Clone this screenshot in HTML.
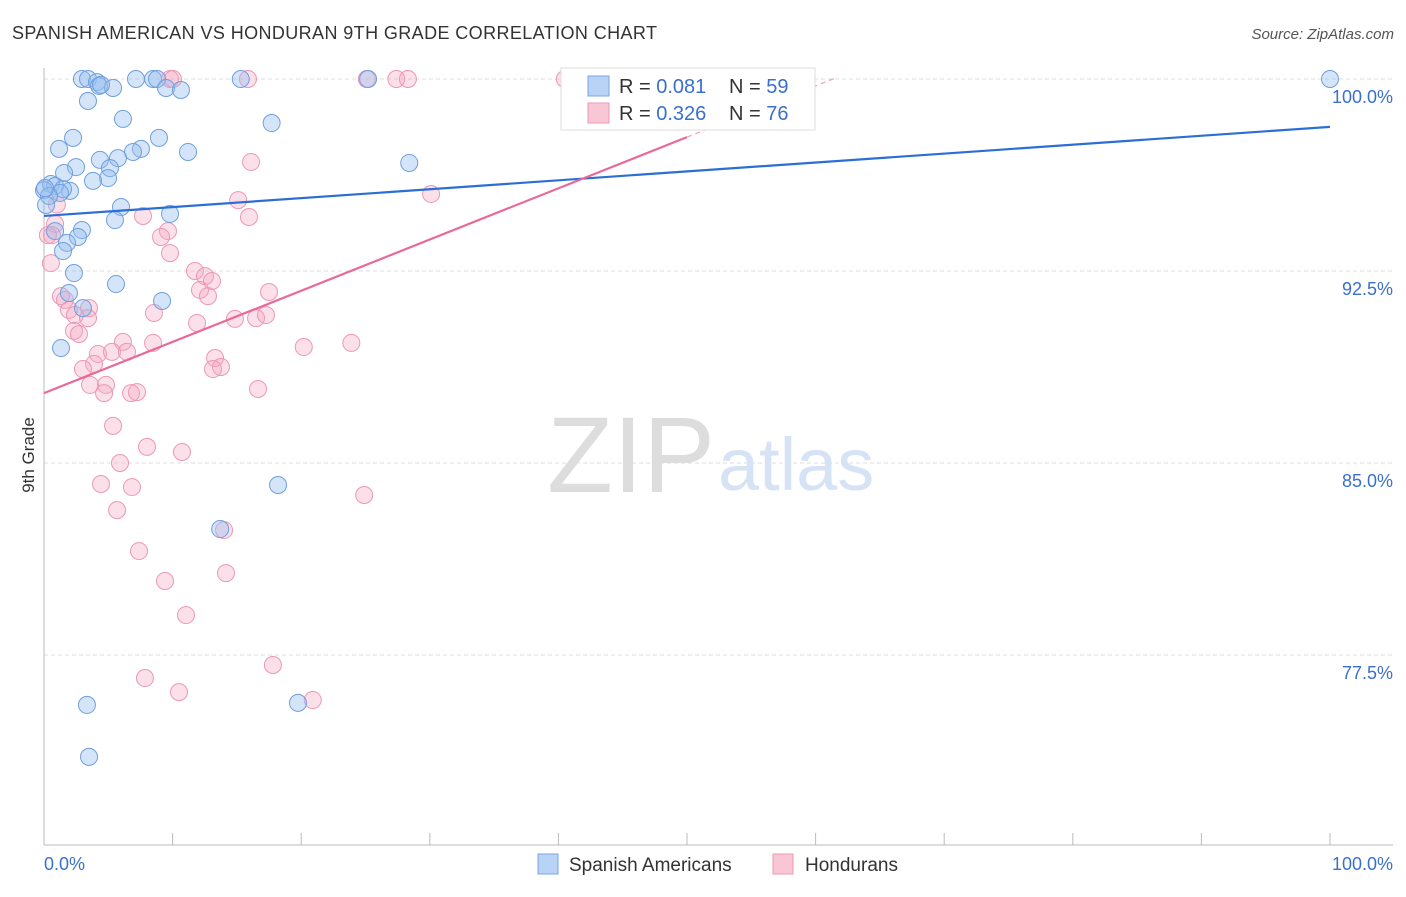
<!DOCTYPE html>
<html><head><meta charset="utf-8"><style>
body{margin:0;background:#fff;font-family:"Liberation Sans",sans-serif;}
svg text{font-family:"Liberation Sans",sans-serif;}
</style></head><body>
<svg id="chart" width="1406" height="892" xmlns="http://www.w3.org/2000/svg">
<text x="12" y="39" font-size="18" fill="#333" textLength="645">SPANISH AMERICAN VS HONDURAN 9TH GRADE CORRELATION CHART</text>
<text x="1394" y="39" font-size="15" fill="#555" text-anchor="end" font-style="italic">Source: ZipAtlas.com</text>
<text x="34" y="455" font-size="17" fill="#333" text-anchor="middle" transform="rotate(-90 34 455)">9th Grade</text>
<g id="grid"></g>
<g id="axes"></g>
<text x="715" y="492" font-size="108" fill="#ddd" text-anchor="end" font-family="Liberation Serif">ZIP</text>
<text x="718" y="490" font-size="74" fill="#d5e3f5">atlas</text>
<g id="pts"></g>
<g id="trend"></g>
<g>
<rect x="561" y="68" width="254" height="62" fill="#fff" stroke="#ddd"/>
<rect x="588" y="76" width="21" height="20" fill="#b8d3f6" stroke="#7aa6e0"/>
<rect x="588" y="103" width="21" height="20" fill="#f9c6d5" stroke="#ec9ab5"/>
<text x="619" y="93" font-size="20" fill="#333">R = <tspan fill="#3a70cc">0.081</tspan></text>
<text x="729" y="93" font-size="20" fill="#333">N = <tspan fill="#3a70cc">59</tspan></text>
<text x="619" y="120" font-size="20" fill="#333">R = <tspan fill="#3a70cc">0.326</tspan></text>
<text x="729" y="120" font-size="20" fill="#333">N = <tspan fill="#3a70cc">76</tspan></text>
</g>
<g>
<rect x="538" y="854" width="20" height="20" fill="#b8d3f6" stroke="#7aa6e0"/>
<text x="569" y="871" font-size="19" fill="#333">Spanish Americans</text>
<rect x="773" y="854" width="20" height="20" fill="#f9c6d5" stroke="#ec9ab5"/>
<text x="805" y="871" font-size="19" fill="#333">Hondurans</text>
</g>
</svg>
<script>
const yTicks=[100,92.5,85,77.5];
const yTickLabels=["100.0%","92.5%","85.0%","77.5%"];
const xTickLabels=["0.0%","100.0%"];
const blueX=[2.95,3.42,4.12,4.28,5.37,3.42,7.15,8.48,8.79,9.49,10.65,15.3,25.2,100,6.14,17.7,2.26,8.94,1.17,7.54,6.92,11.2,4.35,5.75,28.4,2.49,5.13,1.56,4.98,3.81,0.54,0.86,0,2.02,1.48,1.24,0.39,5.99,9.8,5.52,0.86,2.95,2.64,1.79,1.48,2.33,5.6,1.94,3.03,9.18,1.32,18.2,13.7,3.34,19.75,3.5,0.08,0.16,4.43];
const blueY=[100,100,99.88,99.73,99.65,99.14,100,100,100,99.65,99.57,100,100,100,98.44,98.28,97.7,97.7,97.27,97.27,97.15,97.15,96.84,96.91,96.72,96.56,96.52,96.33,96.13,96.02,95.9,95.82,95.66,95.63,95.7,95.55,95.43,95.0,94.73,94.49,94.06,94.1,93.83,93.6,93.28,92.42,91.99,91.64,91.05,91.33,89.49,84.14,82.42,75.55,75.63,73.52,95.74,95.08,99.77];
const pinkX=[9.8,10.03,15.86,25.1,27.4,28.3,40.5,41.7,49.5,16.1,30.1,15.1,7.7,15.94,0.86,9.64,9.1,0.62,9.8,0.54,11.74,12.52,13.06,12.13,12.75,17.5,1.32,1.63,3.5,1.94,2.41,8.55,3.42,11.9,14.85,16.49,17.26,2.33,2.72,6.14,8.48,20.2,23.9,4.2,5.29,6.45,13.3,3.89,3.03,13.76,13.14,4.82,3.58,4.67,6.77,7.23,16.64,5.37,8.01,10.73,5.91,4.43,6.84,24.9,5.68,14.0,7.39,9.41,14.15,11.04,17.8,7.85,10.5,20.9,0.3,1.0];
const pinkY=[100,100,100,100,100,100,100,100,100,96.76,95.51,95.27,94.65,94.61,94.34,94.06,93.83,93.9,93.2,92.81,92.5,92.3,92.11,91.76,91.52,91.68,91.52,91.37,91.05,90.98,90.78,90.86,90.66,90.47,90.63,90.66,90.78,90.16,90.04,89.73,89.69,89.53,89.69,89.26,89.34,89.34,89.1,88.87,88.67,88.75,88.67,88.05,88.05,87.73,87.73,87.77,87.89,86.45,85.63,85.43,85.0,84.18,84.06,83.75,83.16,82.38,81.56,80.39,80.7,79.06,77.11,76.6,76.05,75.74,93.9,95.1];
const blueTrend=[94.65,98.13];
const pinkTrend=[87.73,0.2];
const X0=44,X1=1330,YT=79,PX=25.6;
function sx(v){return X0+(X1-X0)*v/100;}
function sy(v){return YT+(100-v)*PX;}
const NS="http://www.w3.org/2000/svg";
function mk(tag,attrs,parent){const e=document.createElementNS(NS,tag);for(const k in attrs)e.setAttribute(k,attrs[k]);parent.appendChild(e);return e;}
const grid=document.getElementById('grid'),axes=document.getElementById('axes');
yTicks.forEach((t,i)=>{
 const l=mk('line',{x1:44,x2:1393,y1:sy(t),y2:sy(t),stroke:'#ddd','stroke-dasharray':'4,3'},grid);
 
 
 const tx=mk('text',{x:1393,y:sy(t)+24,'font-size':18,fill:'#3a70cc','text-anchor':'end'},axes);
 tx.textContent=yTickLabels[i];
 
 
});
mk('line',{x1:44,x2:44,y1:68,y2:845,stroke:'#bbb'},axes);
mk('line',{x1:44,x2:1393,y1:845,y2:845,stroke:'#bbb'},axes);
for(let i=0;i<=10;i++){const t=mk('line',{x1:sx(i*10),x2:sx(i*10),y1:833,y2:845,stroke:'#bbb'},axes);
 
 }
const xl0=mk('text',{x:44,y:870,'font-size':18,fill:'#3a70cc'},axes);xl0.textContent=xTickLabels[0];


const xl1=mk('text',{x:1393,y:870,'font-size':18,fill:'#3a70cc','text-anchor':'end'},axes);xl1.textContent=xTickLabels[1];


const pts=document.getElementById('pts');
pinkX.forEach((x,i)=>{const c=mk('circle',{cx:sx(x),cy:sy(pinkY[i]),r:8.5,fill:'rgba(244,166,192,0.35)',stroke:'#ec98b3','stroke-width':1},pts);
 
 });
blueX.forEach((x,i)=>{const c=mk('circle',{cx:sx(x),cy:sy(blueY[i]),r:8.5,fill:'rgba(150,190,240,0.4)',stroke:'#6f9fdc','stroke-width':1},pts);
 
 });
const tr=document.getElementById('trend');
const bl=mk('line',{x1:sx(0),y1:sy(blueTrend[0]),x2:sx(100),y2:sy(blueTrend[1]),stroke:'#2b6fd6','stroke-width':2.2},tr);


const xEnd=50,xDash=61.5;
const pl=mk('line',{x1:sx(0),y1:sy(pinkTrend[0]),x2:sx(xEnd),y2:sy(pinkTrend[0]+pinkTrend[1]*xEnd),stroke:'#e8699a','stroke-width':2.2},tr);


const pd=mk('line',{x1:sx(xEnd),y1:sy(pinkTrend[0]+pinkTrend[1]*xEnd),x2:sx(xDash),y2:sy(pinkTrend[0]+pinkTrend[1]*xDash),stroke:'#f0a0bd','stroke-width':1.2,'stroke-dasharray':'5,4'},tr);


</script>
</body></html>
